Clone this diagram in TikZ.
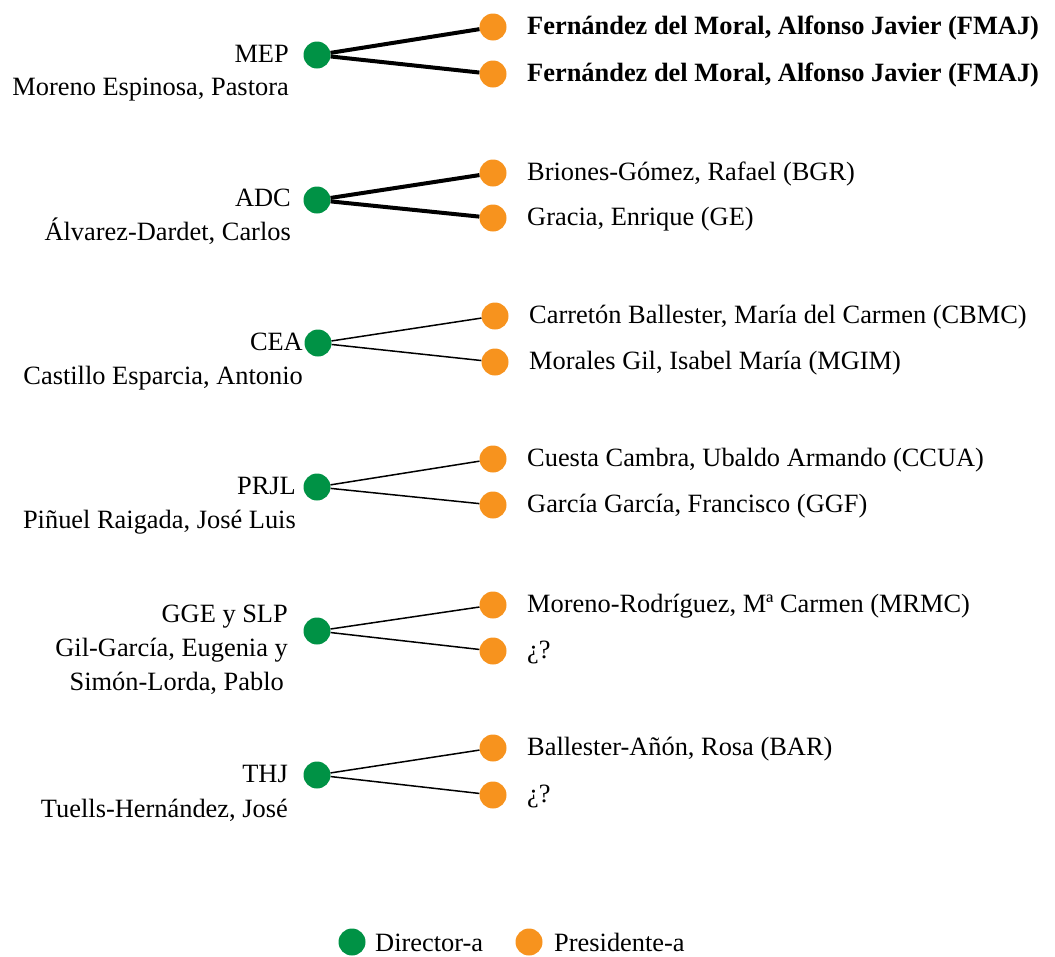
\documentclass[tikz,border=0pt]{standalone}
\usepackage{fontspec}
\setmainfont{LiberationSerif}[Extension=.ttf,UprightFont=*-Regular,BoldFont=*-Bold,ItalicFont=*-Italic,BoldItalicFont=*-BoldItalic]
\usepackage{xcolor}
\definecolor{dirgreen}{RGB}{0,146,69}
\definecolor{presorange}{RGB}{247,147,30}

\begin{document}
\begin{tikzpicture}[x=1pt,y=-1pt,
    director/.style={circle,fill=dirgreen,inner sep=0pt,minimum size=27pt},
    presidente/.style={circle,fill=presorange,inner sep=0pt,minimum size=27pt},
    etiq/.style={inner sep=0pt,font=\fontsize{26.4}{32}\selectfont},
    izq/.style={etiq,anchor=base east},
    der/.style={etiq,anchor=base west},
    gruesa/.style={line width=4pt},
    fina/.style={line width=1.5pt}]
    \useasboundingbox (0,0) rectangle (1055,956);

    % MEP
    \node[director] (mep) at (317,55) {};
    \node[presidente] (mep1) at (493,27) {};
    \node[presidente] (mep2) at (493,74) {};
    \node[izq] (mepA) at (289,62) {MEP};
    \node[izq] (mepB) at (289,95) {Moreno Espinosa, Pastora};
    \node[der] (mep1t) at (527,34) {\bfseries Fernández del Moral, Alfonso Javier (FMAJ)};
    \node[der] (mep2t) at (527,81) {\bfseries Fernández del Moral, Alfonso Javier (FMAJ)};
    \draw[gruesa] (mep) -- (mep1);
    \draw[gruesa] (mep) -- (mep2);

    % ADC
    \node[director] (adc) at (317,200) {};
    \node[presidente] (adc1) at (493,173) {};
    \node[presidente] (adc2) at (493,218) {};
    \node[izq] (adcA) at (291,206) {ADC};
    \node[izq] (adcB) at (291,240) {Álvarez-Dardet, Carlos};
    \node[der] (adc1t) at (527,180) {Briones-Gómez, Rafael (BGR)};
    \node[der] (adc2t) at (527,225) {Gracia, Enrique (GE)};
    \draw[gruesa] (adc) -- (adc1);
    \draw[gruesa] (adc) -- (adc2);

    % CEA
    \node[director] (cea) at (318,343) {};
    \node[presidente] (cea1) at (495,316) {};
    \node[presidente] (cea2) at (495,362) {};
    \node[izq] (ceaA) at (303,350) {CEA};
    \node[izq] (ceaB) at (303,384) {Castillo Esparcia, Antonio};
    \node[der] (cea1t) at (529,323) {Carretón Ballester, María del Carmen (CBMC)};
    \node[der] (cea2t) at (529,369) {Morales Gil, Isabel María (MGIM)};
    \draw[fina] (cea) -- (cea1);
    \draw[fina] (cea) -- (cea2);

    % PRJL
    \node[director] (prjl) at (317,487) {};
    \node[presidente] (prjl1) at (493,459) {};
    \node[presidente] (prjl2) at (493,505) {};
    \node[izq] (prjlA) at (296,494) {PRJL};
    \node[izq] (prjlB) at (296,528) {Piñuel Raigada, José Luis};
    \node[der] (prjl1t) at (527,466) {Cuesta Cambra, Ubaldo Armando (CCUA)};
    \node[der] (prjl2t) at (527,512) {García García, Francisco (GGF)};
    \draw[fina] (prjl) -- (prjl1);
    \draw[fina] (prjl) -- (prjl2);

    % GGE y SLP
    \node[director] (gge) at (317,631) {};
    \node[presidente] (gge1) at (493,605) {};
    \node[presidente] (gge2) at (493,651) {};
    \node[izq] (ggeA) at (288,622) {GGE y SLP};
    \node[izq] (ggeB) at (288,656) {Gil-García, Eugenia y};
    \node[izq] (ggeC) at (284,690) {Simón-Lorda, Pablo};
    \node[der] (gge1t) at (527,612) {Moreno-Rodríguez, Mª Carmen (MRMC)};
    \node[der] (gge2t) at (527,658) {¿?};
    \draw[fina] (gge) -- (gge1);
    \draw[fina] (gge) -- (gge2);

    % THJ
    \node[director] (thj) at (317,775) {};
    \node[presidente] (thj1) at (493,748) {};
    \node[presidente] (thj2) at (493,795) {};
    \node[izq] (thjA) at (288,782) {THJ};
    \node[izq] (thjB) at (288,817) {Tuells-Hernández, José};
    \node[der] (thj1t) at (527,755) {Ballester-Añón, Rosa (BAR)};
    \node[der] (thj2t) at (527,802) {¿?};
    \draw[fina] (thj) -- (thj1);
    \draw[fina] (thj) -- (thj2);

    % leyenda
    \node[director] (legD) at (352,942) {};
    \node[der] (legDt) at (375,951) {Director-a};
    \node[presidente] (legP) at (529,942) {};
    \node[der] (legPt) at (554,951) {Presidente-a};
\end{tikzpicture}
\end{document}
